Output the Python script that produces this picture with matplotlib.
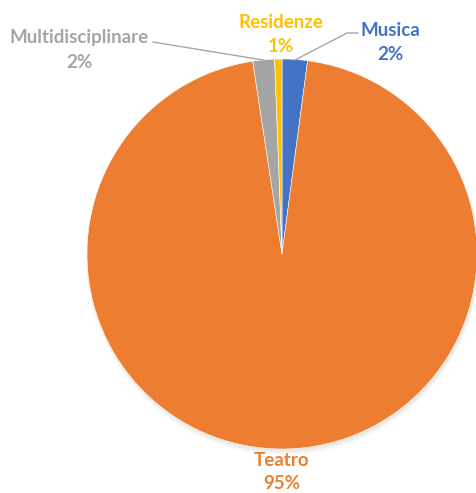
import numpy as np
import matplotlib.pyplot as plt

plt.rcParams['font.family'] = ['Lato', 'DejaVu Sans']

categories = ['Musica', 'Teatro', 'Multidisciplinare', 'Residenze']
values = [2.1, 95.5, 1.8, 0.6]
pct_labels = ['2%', '95%', '2%', '1%']
colors = ['#4472C4', '#ED7D31', '#A5A5A5', '#FFC000']

W, H = 477, 493
CX, CY, R = 282, 254, 195


def px(x, y):
    # pixel coordinates -> data coordinates (pie radius = 1)
    return (x - CX) / R, (CY - y) / R


fig = plt.figure(figsize=(W / 100, H / 100), dpi=100)
ax = fig.add_axes([0, 0, 1, 1])

# soft shadow
for i, a in enumerate([0.03, 0.03, 0.03]):
    ax.add_patch(plt.Circle((0.005, -0.01 - i * 0.006), 1.0 + i * 0.004,
                            color='black', alpha=a, lw=0, zorder=0))

wedges, _ = ax.pie(values, colors=colors, startangle=90, counterclock=False,
                   radius=1.0, wedgeprops=dict(edgecolor='white', linewidth=0.4))
for w in wedges:
    w.set_zorder(2)

ax.set_xlim(-CX / R, (W - CX) / R)
ax.set_ylim(-(H - CY) / R, CY / R)
ax.set_aspect('equal')
ax.axis('off')

# (x, y of name line, y of percent line) in pixels
label_pos = {
    'Musica': (390, 30, 54),
    'Teatro': (282, 461, 484),
    'Multidisciplinare': (79, 37, 62),
    'Residenze': (281, 23, 47),
}
leaders = {
    'Musica': [(358, 33), (347, 33), (295, 60)],
    'Multidisciplinare': [(153, 42), (263, 60)],
}

for name, pct, col in zip(categories, pct_labels, colors):
    x, y1, y2 = label_pos[name]
    for txt, yy in ((name, y1), (pct, y2)):
        ax.text(*px(x, yy), txt, color=col, fontsize=13.5, fontweight='bold',
                ha='center', va='center', zorder=5)

for name, pts in leaders.items():
    xy = np.array([px(*p) for p in pts])
    ax.plot(xy[:, 0], xy[:, 1], color='#A6A6A6', lw=1, zorder=4)

fig.savefig('out.png', dpi=100)
